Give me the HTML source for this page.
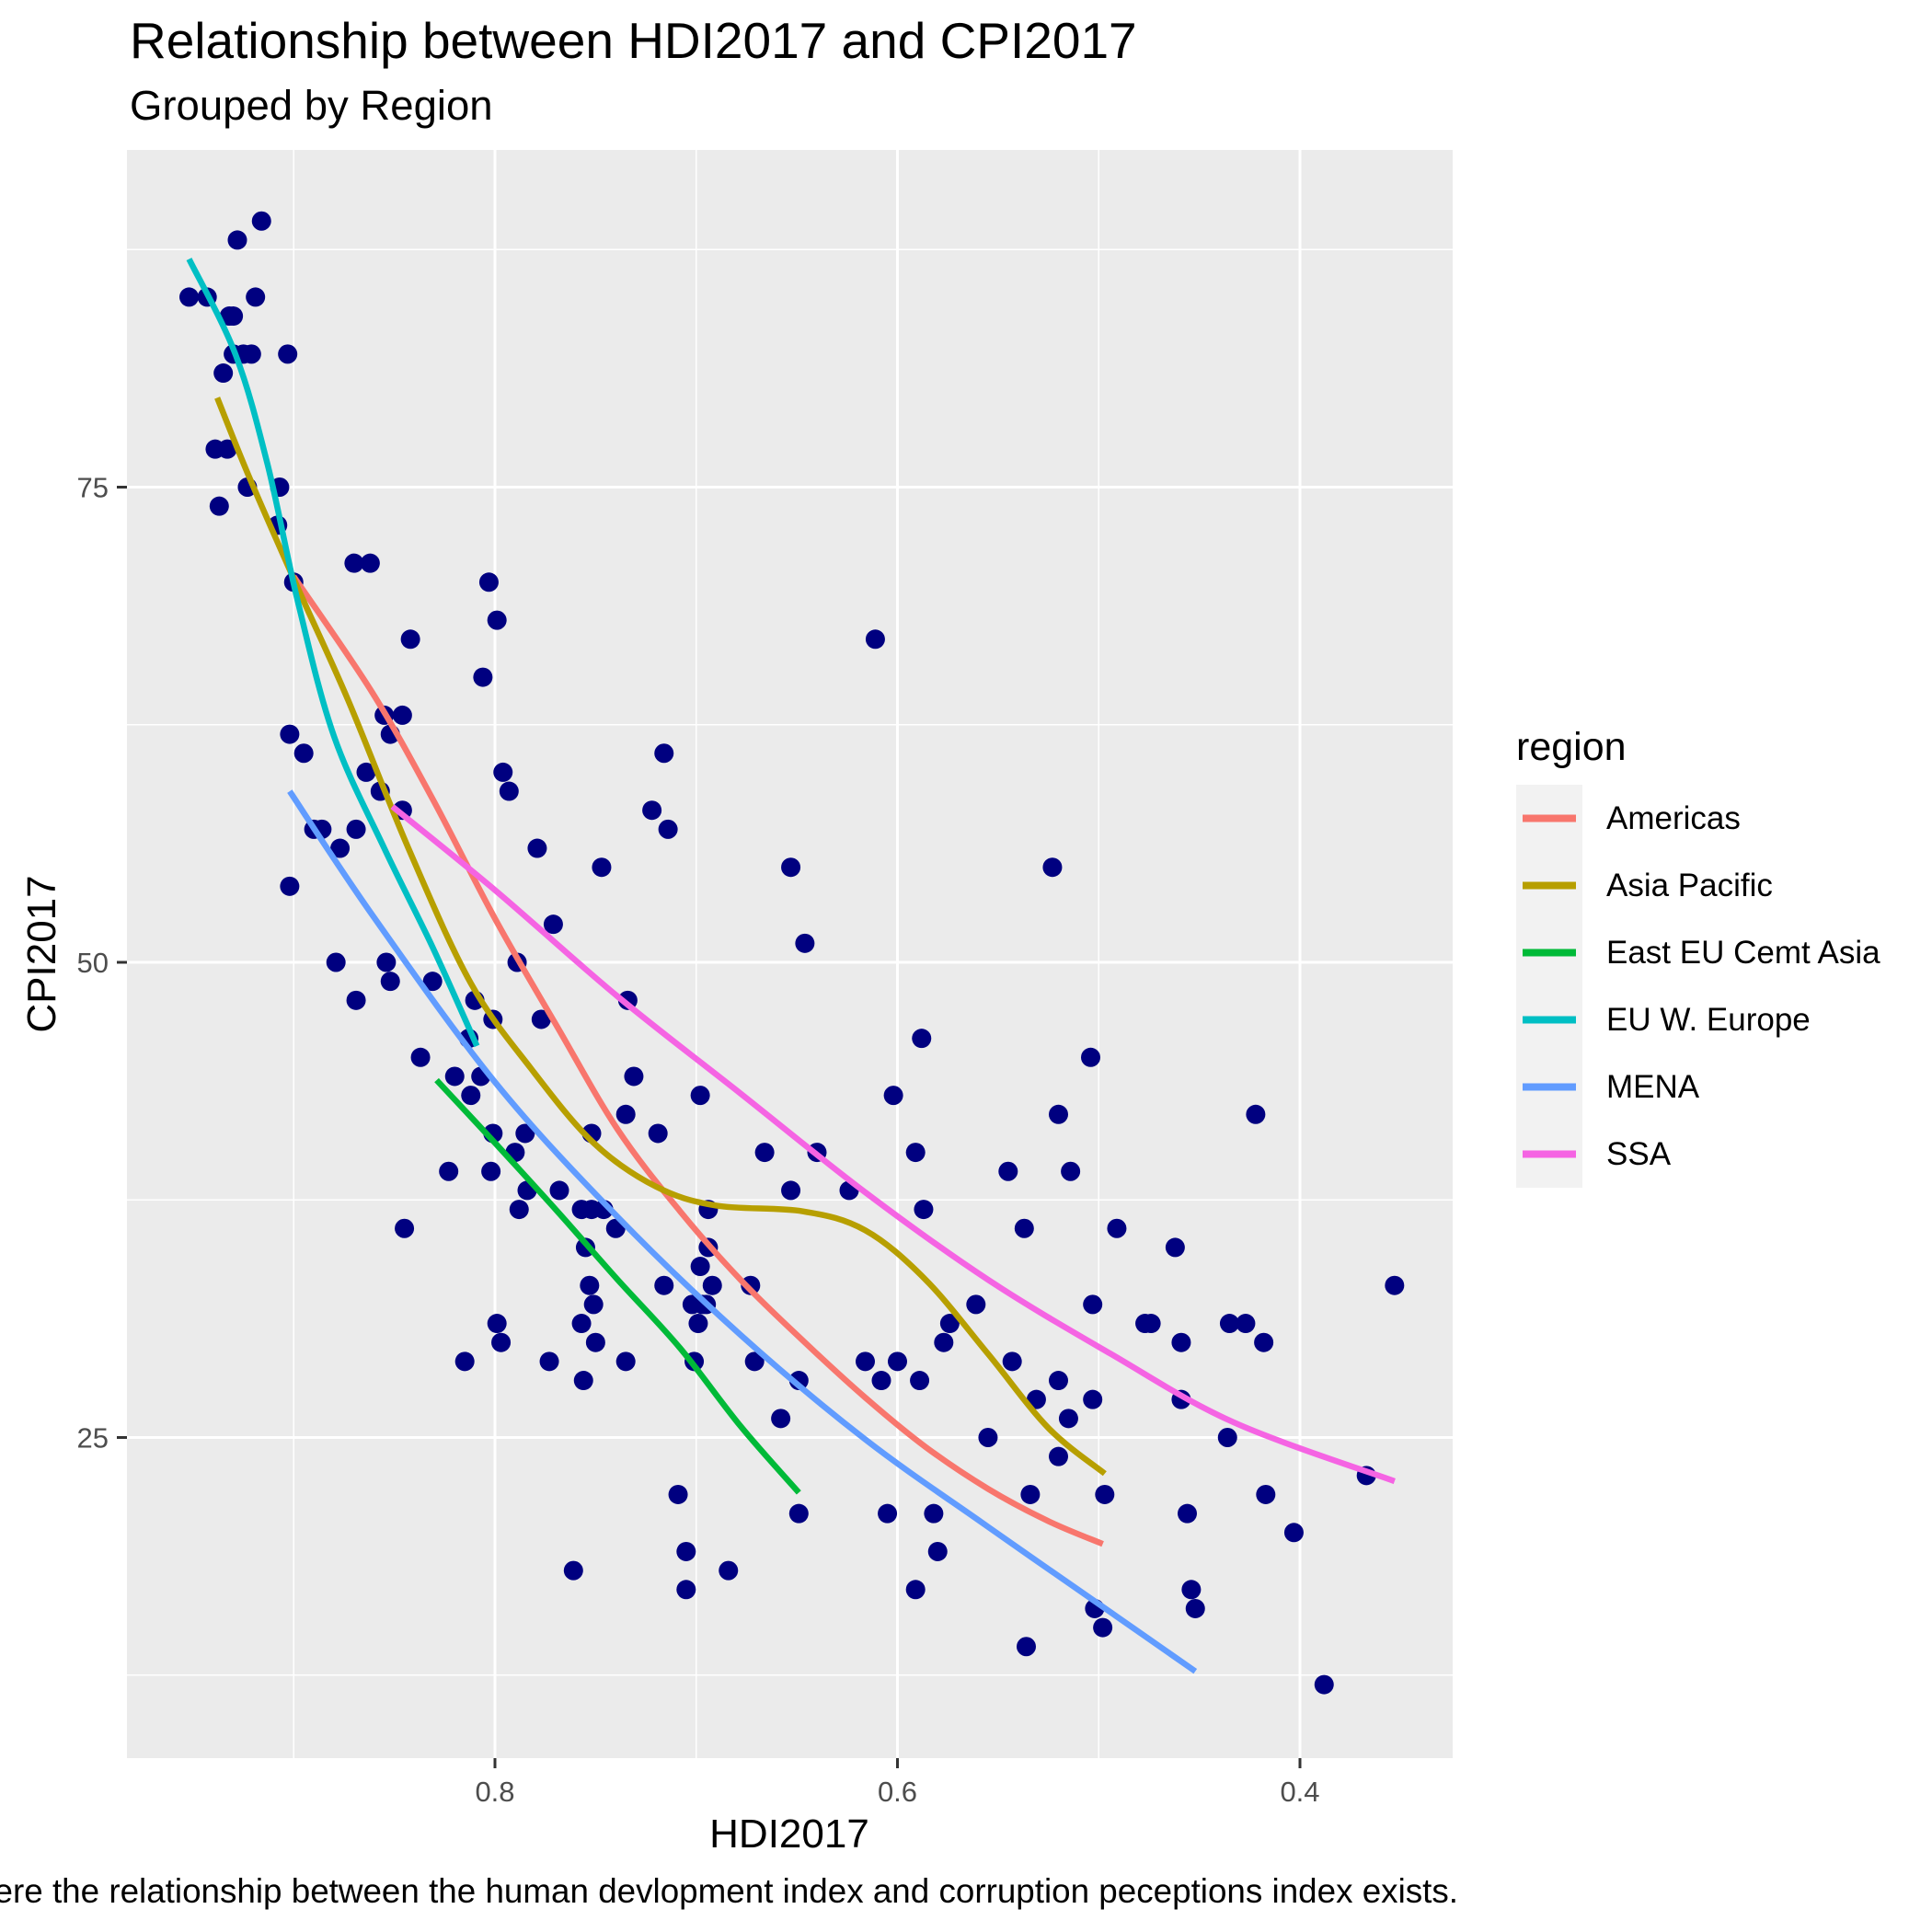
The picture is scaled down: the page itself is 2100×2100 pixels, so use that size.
<!DOCTYPE html>
<html><head><meta charset="utf-8"><style>
html,body{margin:0;padding:0;background:#fff;overflow:hidden;}
svg{display:block;font-family:"Liberation Sans",Arial,sans-serif;}
</style></head><body>
<svg id="chart" width="2100" height="2100" viewBox="0 0 2100 2100" xmlns="http://www.w3.org/2000/svg">
<rect width="2100" height="2100" fill="#fff"/>
<text x="141" y="63" font-size="55" fill="#000">Relationship between HDI2017 and CPI2017</text>
<text x="141" y="130" font-size="45.5" fill="#000">Grouped by Region</text>
<rect x="138" y="163" width="1441" height="1748" fill="#EBEBEB"/>
<g id="grid"></g>
<g id="marks"></g>
<g id="lines"></g>
<g id="axes"></g>
<text x="858" y="2008" font-size="44" text-anchor="middle" fill="#000">HDI2017</text>
<text x="0" y="0" font-size="44" text-anchor="middle" fill="#000" transform="translate(60,1037) rotate(-90)">CPI2017</text>
<text x="1585" y="2068" font-size="36.8" text-anchor="end" fill="#000">Where the relationship between the human devlopment index and corruption peceptions index exists.</text>
<g id="legend">
<text x="1648" y="826" font-size="43" fill="#000">region</text>
</g>
</svg>
<script>
const hdi = [0.952,0.943,0.928,0.916,0.919,0.932,0.930,0.930,0.925,0.921,0.903,0.935,0.939,0.933,0.937,0.923,0.907,0.908,0.900,0.870,0.862,0.842,0.803,0.799,0.806,0.855,0.846,0.852,0.902,0.895,0.864,0.857,0.846,0.890,0.886,0.869,0.877,0.902,0.796,0.793,0.779,0.771,0.747,0.716,0.722,0.714,0.611,0.653,0.646,0.523,0.879,0.869,0.854,0.852,0.831,0.810,0.813,0.801,0.789,0.777,0.837,0.820,0.812,0.807,0.823,0.802,0.785,0.801,0.790,0.784,0.768,0.788,0.845,0.734,0.731,0.735,0.719,0.698,0.752,0.757,0.752,0.746,0.740,0.755,0.753,0.751,0.757,0.750,0.735,0.716,0.697,0.702,0.699,0.695,0.698,0.694,0.694,0.692,0.701,0.799,0.797,0.815,0.773,0.756,0.671,0.673,0.666,0.653,0.640,0.624,0.658,0.649,0.649,0.709,0.705,0.705,0.684,0.761,0.616,0.608,0.600,0.602,0.591,0.588,0.587,0.589,0.605,0.591,0.582,0.580,0.577,0.574,0.561,0.555,0.545,0.543,0.537,0.531,0.534,0.536,0.520,0.520,0.520,0.515,0.514,0.504,0.503,0.503,0.497,0.502,0.498,0.491,0.477,0.474,0.459,0.462,0.459,0.456,0.454,0.452,0.436,0.435,0.427,0.422,0.418,0.417,0.403,0.388,0.367,0.353];
const cpi = [85,85,88,89,85,84,84,82,82,82,82,81,77,77,74,75,75,73,70,71,71,67,70,68,65,63,63,62,62,61,60,59,58,57,57,57,56,54,60,59,56,52,55,61,58,57,67,55,51,55,50,48,50,49,49,48,46,47,50,47,45,44,43,44,39,39,41,41,40,38,38,37,36,48,44,42,41,43,41,37,37,37,36,35,33,32,31,30,29,33,32,32,31,32,34,35,37,33,29,31,30,29,29,28,29,33,40,38,40,38,26,28,21,22,19,17,18,18,29,28,29,43,40,46,37,28,21,17,21,19,30,31,32,25,39,29,36,27,22,14,42,28,24,26,39,45,32,27,22,16,15,36,31,31,30,35,27,21,17,16,25,31,31,42,30,22,20,12,23,33];
const regions = ["Americas","Asia Pacific","East EU Cemt Asia","EU W. Europe","MENA","SSA"];
const regionColors = ["#F8766D","#B79F00","#00BA38","#00BFC4","#619CFF","#F564E3"];
const amHdi = [0.900,0.861,0.831,0.800,0.769,0.739,0.708,0.678,0.647,0.616,0.586,0.555,0.525,0.498];
const amCpi = [70.3,64.2,58.6,52.3,46.6,41.2,36.9,33.3,30.1,27.1,24.5,22.3,20.6,19.4];
const apHdi = [0.938,0.922,0.898,0.873,0.843,0.812,0.782,0.751,0.720,0.690,0.647,0.616,0.586,0.555,0.525,0.497];
const apCpi = [79.7,75.5,69.7,63.8,56.0,48.9,44.4,40.5,38.2,37.2,36.9,35.9,33.3,29.4,25.5,23.1];
const eeHdi = [0.829,0.800,0.769,0.739,0.708,0.678,0.649];
const eeCpi = [43.8,40.5,36.9,33.3,29.7,25.6,22.1];
const euHdi = [0.952,0.929,0.913,0.898,0.880,0.855,0.831,0.809];
const euCpi = [87.0,82.0,76.2,69.0,61.9,56.0,50.8,45.6];
const meHdi = [0.902,0.861,0.800,0.739,0.678,0.616,0.555,0.494,0.452];
const meCpi = [59.0,52.5,43.7,36.6,30.4,24.9,20.3,15.8,12.7];
const ssHdi = [0.851,0.800,0.739,0.678,0.616,0.555,0.494,0.433,0.353];
const ssCpi = [58.2,53.8,48.2,43.1,37.9,33.3,29.4,25.8,22.7];
const xTicks = [0.8,0.6,0.4];
const xTickLabels = ["0.8","0.6","0.4"];
const xMinor = [0.9,0.7,0.5];
const yTicks = [25,50,75];
const yTickLabels = ["25","50","75"];
const yMinor = [12.5,37.5,62.5,87.5];

const NS = "http://www.w3.org/2000/svg";
const PL = 138, PR = 1579, PT = 163, PB = 1911;
function xs(v){ return 538 + (0.8 - v) * 2187.5; }
function ys(v){ return 1046 - (v - 50) * 20.66; }
function mk(tag, attrs, parent){
  const e = document.createElementNS(NS, tag);
  for (const k in attrs) e.setAttribute(k, attrs[k]);
  parent.appendChild(e);
  return e;
}
const grid = document.getElementById('grid');
xMinor.forEach(v => {
  const l = mk('line',{x1:xs(v),x2:xs(v),y1:PT,y2:PB,stroke:'#fff','stroke-width':1.5},grid);
  
  
});
yMinor.forEach(v => {
  const l = mk('line',{x1:PL,x2:PR,y1:ys(v),y2:ys(v),stroke:'#fff','stroke-width':1.5},grid);
  
  
});
xTicks.forEach(v => {
  const l = mk('line',{x1:xs(v),x2:xs(v),y1:PT,y2:PB,stroke:'#fff','stroke-width':3},grid);
  
  
});
yTicks.forEach(v => {
  const l = mk('line',{x1:PL,x2:PR,y1:ys(v),y2:ys(v),stroke:'#fff','stroke-width':3},grid);
  
  
});
const marks = document.getElementById('marks');
for (let i = 0; i < hdi.length; i++){
  const c = mk('circle',{cx:xs(hdi[i]),cy:ys(cpi[i]),r:10.5,fill:'#000080'},marks);
  
  
}
const lines = document.getElementById('lines');
const series = [[amHdi,amCpi],[apHdi,apCpi],[eeHdi,eeCpi],[euHdi,euCpi],[meHdi,meCpi],[ssHdi,ssCpi]];
function smoothPath(px, py){
  let d = 'M' + px[0] + ',' + py[0];
  for (let i = 0; i < px.length - 1; i++){
    const x0 = px[Math.max(i-1,0)], y0 = py[Math.max(i-1,0)];
    const x1 = px[i], y1 = py[i], x2 = px[i+1], y2 = py[i+1];
    const x3 = px[Math.min(i+2,px.length-1)], y3 = py[Math.min(i+2,px.length-1)];
    d += ' C' + (x1+(x2-x0)/6) + ',' + (y1+(y2-y0)/6) + ' ' + (x2-(x3-x1)/6) + ',' + (y2-(y3-y1)/6) + ' ' + x2 + ',' + y2;
  }
  return d;
}
series.forEach((s, k) => {
  const px = s[0].map(xs), py = s[1].map(ys);
  const p = mk('path',{d:smoothPath(px,py),fill:'none',stroke:regionColors[k],'stroke-width':6.5},lines);
  
  
});
const axes = document.getElementById('axes');
xTicks.forEach((v, i) => {
  const t = mk('line',{x1:xs(v),x2:xs(v),y1:PB,y2:PB+11,stroke:'#333','stroke-width':3},axes);
  
  
  const tx = mk('text',{x:xs(v),y:1958,'font-size':31,'text-anchor':'middle',fill:'#4D4D4D'},axes);
  tx.textContent = xTickLabels[i];
  
  
});
yTicks.forEach((v, i) => {
  const t = mk('line',{x1:PL-11,x2:PL,y1:ys(v),y2:ys(v),stroke:'#333','stroke-width':3},axes);
  
  
  const tx = mk('text',{x:118,y:ys(v)+11,'font-size':31,'text-anchor':'end',fill:'#4D4D4D'},axes);
  tx.textContent = yTickLabels[i];
  
  
});
const legend = document.getElementById('legend');
regions.forEach((r, k) => {
  const y0 = 853 + k * 73;
  const bg = mk('rect',{x:1648,y:y0,width:72,height:73,fill:'#F2F2F2'},legend);
  
  
  const ln = mk('line',{x1:1655,x2:1713,y1:y0+36.5,y2:y0+36.5,stroke:regionColors[k],'stroke-width':8},legend);
  
  
  const tx = mk('text',{x:1746,y:y0+48,'font-size':35,fill:'#000'},legend);
  tx.textContent = r;
  
  
});
</script>
</body></html>
